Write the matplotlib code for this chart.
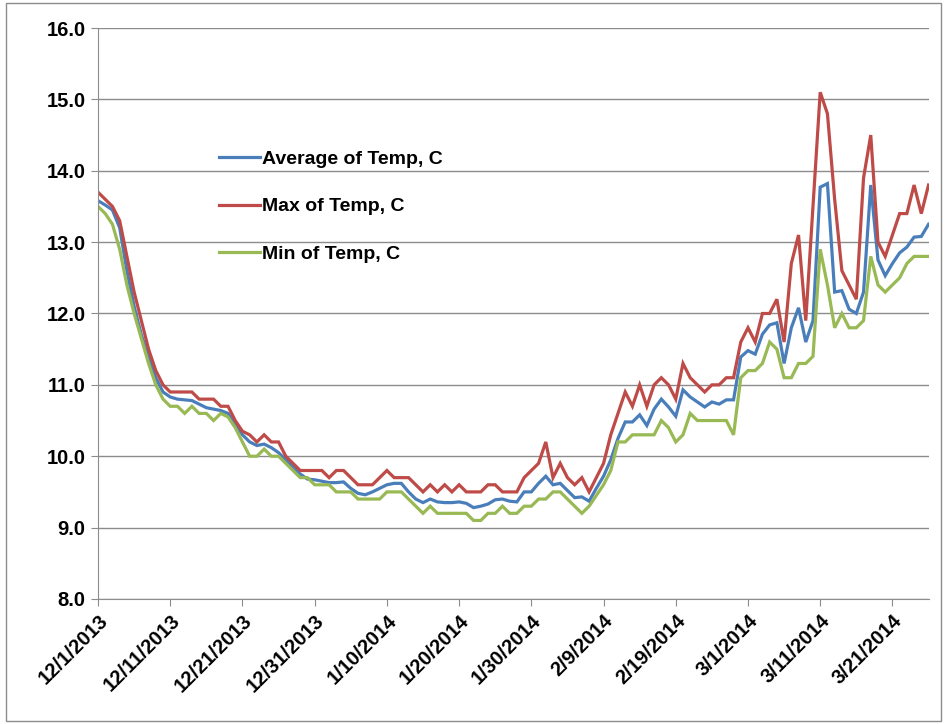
import numpy as np
import pandas as pd
import matplotlib
matplotlib.use("Agg")
import matplotlib.pyplot as plt
from matplotlib.patches import Rectangle

# daily readings, 12/1/2013 .. 3/26/2014
start = "2013-12-01"
avg_temp = [13.58, 13.52, 13.45, 13.2, 12.6, 12.1, 11.7, 11.4, 11.1, 10.9,
            10.83, 10.8, 10.79, 10.78, 10.73, 10.68, 10.66, 10.64, 10.6, 10.45,
            10.3, 10.2, 10.15, 10.17, 10.12, 10.05, 9.95, 9.85, 9.75, 9.68,
            9.67, 9.65, 9.63, 9.63, 9.64, 9.55, 9.48, 9.46, 9.5, 9.55,
            9.6, 9.62, 9.62, 9.5, 9.4, 9.35, 9.4, 9.36, 9.35, 9.35,
            9.36, 9.34, 9.28, 9.3, 9.33, 9.39, 9.4, 9.37, 9.36, 9.5,
            9.5, 9.62, 9.72, 9.6, 9.62, 9.52, 9.42, 9.43, 9.37, 9.55,
            9.72, 9.95, 10.25, 10.48, 10.48, 10.58, 10.43, 10.66, 10.8, 10.69,
            10.56, 10.93, 10.83, 10.76, 10.69, 10.76, 10.73, 10.79, 10.79, 11.39,
            11.48, 11.43, 11.71, 11.84, 11.87, 11.3, 11.8, 12.08, 11.6, 11.9,
            13.77, 13.82, 12.3, 12.32, 12.06, 12.0, 12.3, 13.8, 12.75, 12.53,
            12.7, 12.85, 12.93, 13.07, 13.08, 13.25]
max_temp = [13.7, 13.6, 13.5, 13.3, 12.8, 12.3, 11.9, 11.5, 11.2, 11.0,
            10.9, 10.9, 10.9, 10.9, 10.8, 10.8, 10.8, 10.7, 10.7, 10.5,
            10.35, 10.3, 10.2, 10.3, 10.2, 10.2, 10.0, 9.9, 9.8, 9.8,
            9.8, 9.8, 9.7, 9.8, 9.8, 9.7, 9.6, 9.6, 9.6, 9.7,
            9.8, 9.7, 9.7, 9.7, 9.6, 9.5, 9.6, 9.5, 9.6, 9.5,
            9.6, 9.5, 9.5, 9.5, 9.6, 9.6, 9.5, 9.5, 9.5, 9.7,
            9.8, 9.9, 10.2, 9.7, 9.9, 9.7, 9.6, 9.7, 9.5, 9.7,
            9.9, 10.3, 10.6, 10.9, 10.7, 11.0, 10.7, 11.0, 11.1, 11.0,
            10.8, 11.3, 11.1, 11.0, 10.9, 11.0, 11.0, 11.1, 11.1, 11.6,
            11.8, 11.6, 12.0, 12.0, 12.2, 11.6, 12.7, 13.1, 11.9, 13.5,
            15.1, 14.8, 13.6, 12.6, 12.4, 12.2, 13.9, 14.5, 13.0, 12.8,
            13.1, 13.4, 13.4, 13.8, 13.4, 13.8]
min_temp = [13.5, 13.4, 13.25, 12.9, 12.4, 12.0, 11.65, 11.3, 11.0, 10.8,
            10.7, 10.7, 10.6, 10.7, 10.6, 10.6, 10.5, 10.6, 10.55, 10.4,
            10.2, 10.0, 10.0, 10.1, 10.0, 10.0, 9.9, 9.8, 9.7, 9.7,
            9.6, 9.6, 9.6, 9.5, 9.5, 9.5, 9.4, 9.4, 9.4, 9.4,
            9.5, 9.5, 9.5, 9.4, 9.3, 9.2, 9.3, 9.2, 9.2, 9.2,
            9.2, 9.2, 9.1, 9.1, 9.2, 9.2, 9.3, 9.2, 9.2, 9.3,
            9.3, 9.4, 9.4, 9.5, 9.5, 9.4, 9.3, 9.2, 9.3, 9.45,
            9.6, 9.8, 10.2, 10.2, 10.3, 10.3, 10.3, 10.3, 10.5, 10.4,
            10.2, 10.3, 10.6, 10.5, 10.5, 10.5, 10.5, 10.5, 10.3, 11.1,
            11.2, 11.2, 11.3, 11.6, 11.5, 11.1, 11.1, 11.3, 11.3, 11.4,
            12.9, 12.4, 11.8, 12.0, 11.8, 11.8, 11.9, 12.8, 12.4, 12.3,
            12.4, 12.5, 12.7, 12.8, 12.8, 12.8]
labels = ["Average of Temp, C", "Max of Temp, C", "Min of Temp, C"]
colors = ["#4A7EBB", "#BE4B48", "#98B954"]

dates = pd.date_range(start, periods=len(avg_temp), freq="D")

plt.rcParams["font.family"] = ["Liberation Sans", "DejaVu Sans"]
plt.rcParams["font.weight"] = "bold"

fig = plt.figure(figsize=(9.47, 7.24), dpi=100)
ax = fig.add_axes([0.1035, 0.1727, 0.877, 0.7886])

for ys, lab, c in zip([avg_temp, max_temp, min_temp], labels, colors):
    ax.plot(dates, ys, color=c, lw=2.3, label=lab, solid_joinstyle="miter")

ax.set_ylim(8, 16)
ax.set_yticks(np.arange(8, 16.1, 1.0))
ax.yaxis.set_major_formatter(plt.FuncFormatter(lambda v, p: f"{v:.1f}"))
ax.set_xlim(dates[0], dates[-1])
ticks = dates[::10]
ax.set_xticks(ticks)
ax.set_xticklabels([f"{d.month}/{d.day}/{d.year}" for d in ticks],
                   rotation=45, ha="right", rotation_mode="anchor")

ax.grid(axis="y", color="#8c8c8c", lw=1.0)
ax.set_axisbelow(True)
for s in ["top", "right"]:
    ax.spines[s].set_visible(False)
for s in ["left", "bottom"]:
    ax.spines[s].set_color("#8c8c8c")
ax.tick_params(axis="both", colors="#8c8c8c", length=5, labelcolor="black",
               labelsize=14.5, pad=4)

ax.legend(loc="upper left", bbox_to_anchor=(0.136, 0.80), frameon=False,
          fontsize=14, labelspacing=1.55, handlelength=2.1, handletextpad=0.15,
          borderaxespad=0)

fig.patches.append(Rectangle((0.006, 0.004), 0.988, 0.992, transform=fig.transFigure,
                             fill=False, edgecolor="#8c8c8c", lw=1.0))

fig.savefig("out.png", dpi=100)
